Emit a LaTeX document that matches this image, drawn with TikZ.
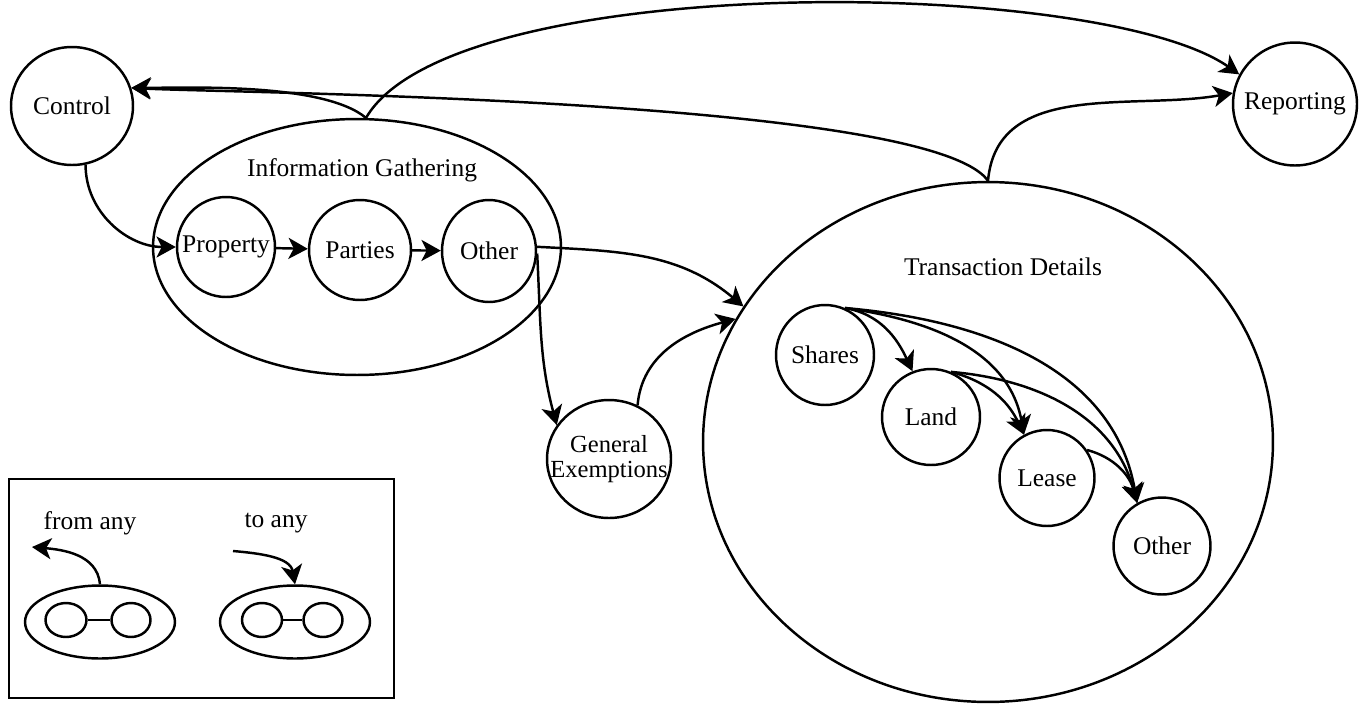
\documentclass[tikz,border=0pt]{standalone}
\usepackage{fontspec}
\setmainfont{Liberation Serif}
\usetikzlibrary{shapes.geometric,arrows.meta}

\begin{document}
\begin{tikzpicture}[x=0.02cm, y=0.02cm, line width=1.4pt,
        font=\fontsize{14.5}{12}\selectfont,
        bub/.style={draw, ellipse, inner sep=0pt},
        arr/.style={-{Stealth[length=11pt, width=12pt, inset=3pt]}}]
          \useasboundingbox (0,0) rectangle (1359,-704);

          \node[bub, minimum width=2.44cm, minimum height=2.36cm, label=center:Control] (1) at (72,-106) {};
          \node[bub, minimum width=8.16cm, minimum height=5.12cm] (2) at (357,-247) {};
          \node[] (2a) at (362,-170) {Information Gathering};
          \node[bub, minimum width=1.96cm, minimum height=2cm, label=center:Property] (3) at (226,-247) {};
          \node[bub, minimum width=2.04cm, minimum height=2cm, label=center:Parties] (4) at (360,-250) {};
          \node[bub, minimum width=1.88cm, minimum height=2.04cm, label=center:Other] (5) at (489,-251) {};
          \node[bub, minimum width=2.48cm, minimum height=2.46cm, label=center:Reporting] (6) at (1295,-104) {};
          \node[bub, minimum width=2.48cm, minimum height=2.36cm, label={[align=center, font=\fontsize{14}{14}\selectfont]center:{General\\Exemptions}}] (7) at (609,-459) {};
          \node[bub, minimum width=11.4cm, minimum height=10.4cm] (8) at (988,-442) {};
          \node[] (8a) at (1003,-267) {Transaction Details};
          \node[bub, minimum width=1.96cm, minimum height=2cm, label=center:Shares] (9) at (825,-355) {};
          \node[bub, minimum width=1.96cm, minimum height=1.92cm, label=center:Land] (10) at (931,-417) {};
          \node[bub, minimum width=1.9cm, minimum height=1.92cm, label=center:Lease] (11) at (1047,-478) {};
          \node[bub, minimum width=1.94cm, minimum height=1.94cm, label=center:Other] (12) at (1162,-546) {};

          \draw[arr] (1.-77) to [out=-90, in=180] (3.west);
          \draw[arr] (3) -- (4);
          \draw[arr] (4) -- (5);
          \draw[arr] (2.86) to [out=140, in=0, looseness=0.6] (1.17);
          \draw[arr] (8.north) to [out=125, in=-3, looseness=0.3] (1.17);
          \draw[arr] (2.86) to [out=60, in=145, looseness=0.5] (6.152);
          \draw[arr] (8.north) to [out=85, in=190] (6.170);
          \draw[arr] (5.5) to [out=-3, in=140] (8.151);
          \draw[arr] (5.-3) to [out=-87, in=105] (7.147);
          \draw[arr] (7.62) to [out=85, in=195] (8.154);

          \draw[arr] (9.67) to [out=-10, in=115] (10.112);
          \draw[arr] (9.67) to [out=-8, in=100] (11.118);
          \draw[arr] (9.67) to [out=-5, in=100] (12.120);
          \draw[arr] (10.66) to [out=-15, in=115] (11.118);
          \draw[arr] (10.66) to [out=-5, in=105] (12.120);
          \draw[arr] (11.35) to [out=-15, in=105] (12.120);

          % legend
          \draw (9,-479) rectangle (394,-698);
          \node[] (13) at (90,-523) {from any};
          \node[] (14) at (276,-523) {to any};
          \node[bub, minimum width=3cm, minimum height=1.46cm] (15) at (100,-622) {};
          \node[bub, minimum width=0.82cm, minimum height=0.68cm] (16) at (66,-620) {};
          \node[bub, minimum width=0.78cm, minimum height=0.68cm] (17) at (131,-620) {};
          \node[bub, minimum width=3cm, minimum height=1.46cm] (18) at (295,-622) {};
          \node[bub, minimum width=0.8cm, minimum height=0.68cm] (19) at (262,-620) {};
          \node[bub, minimum width=0.78cm, minimum height=0.68cm] (20) at (323,-620) {};
          \coordinate (c1) at (32,-547);
          \coordinate (c2) at (233,-551);
          \draw (16) -- (17);
          \draw (19) -- (20);
          \draw[arr] (15.north) to [out=95, in=-5] (c1);
          \draw[arr] (c2) to [out=-5, in=100] (18.north);
    \end{tikzpicture}
\end{document}
